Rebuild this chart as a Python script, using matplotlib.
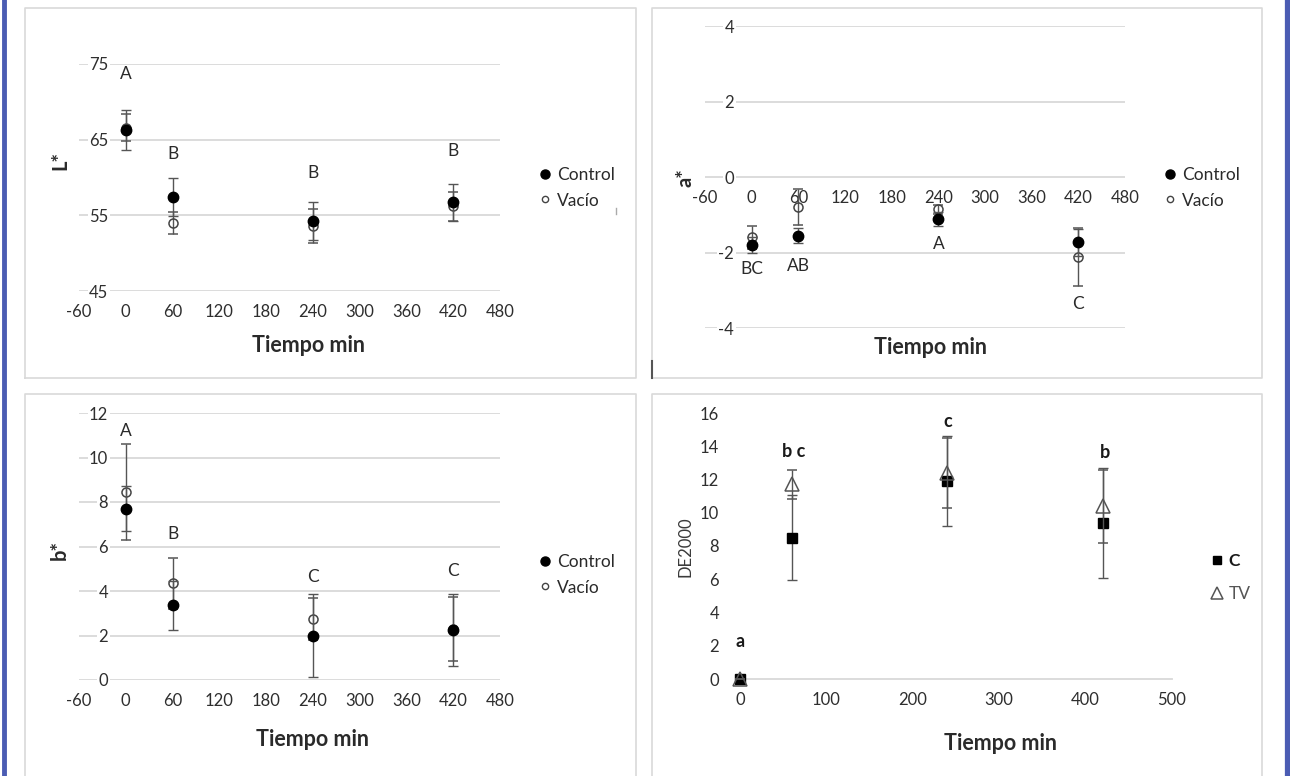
import matplotlib.pyplot as plt
from matplotlib.lines import Line2D

W, H = 1290, 776

# tiempo de muestreo (min)
tiempo = [0, 60, 240, 420]

# L*
L_control = [66.3, 57.4, 54.2, 56.7]
L_control_err = [2.6, 2.5, 2.5, 2.5]
L_vacio = [66.6, 54.0, 53.6, 56.2]
L_vacio_err = [1.8, 1.5, 2.2, 1.9]
L_letras = ['A', 'B', 'B', 'B']

# a*
a_control = [-1.80, -1.55, -1.12, -1.73]
a_control_err = [0.20, 0.20, 0.18, 0.35]
a_vacio = [-1.60, -0.80, -0.85, -2.12]
a_vacio_err = [0.30, 0.48, 0.12, 0.78]
a_letras = ['BC', 'AB', 'A', 'C']

# b*
b_control = [7.70, 3.35, 2.00, 2.25]
b_control_err = [1.00, 1.10, 1.85, 1.60]
b_vacio = [8.45, 4.35, 2.75, 2.30]
b_vacio_err = [2.15, 1.15, 0.95, 1.45]
b_letras = ['A', 'B', 'C', 'C']

# DE2000
de_c = [0, 8.5, 11.9, 9.4]
de_c_err = [0, 2.55, 2.7, 3.3]
de_tv = [0, 11.7, 12.4, 10.4]
de_tv_err = [0, 0.9, 2.1, 2.2]
de_letras = ['a', 'b c', 'c', 'b']

# where the letters sit (layout only)
L_letra_y = [73.7, 63.1, 60.6, 63.5]
a_letra_y = [-2.44, -2.36, -1.78, -3.36]
b_letra_y = [11.2, 6.55, 4.62, 4.92]
de_letra_x = [0, 62, 241, 422]
de_letra_y = [2.25, 13.7, 15.5, 13.6]

plt.rcParams['font.family'] = ['Lato', 'DejaVu Sans']
plt.rcParams['axes.unicode_minus'] = False

txt = '#2e2e2e'
grid_c = '#d9d9d9'
frame_c = '#d9d9d9'
err_c = '#555555'

fig = plt.figure(figsize=(W / 100, H / 100), dpi=100)
fig.patch.set_facecolor('white')


def px_axes(x0, y0, x1, y1):
    return fig.add_axes([x0 / W, 1 - y1 / H, (x1 - x0) / W, (y1 - y0) / H])


def fig_line(xs, ys, **kw):
    fig.add_artist(Line2D([x / W for x in xs], [1 - y / H for y in ys],
                          transform=fig.transFigure, **kw))


def fig_text(x, y, s, **kw):
    fig.text(x / W, 1 - y / H, s, **kw)


# panel frames and the blue border
fig_line([25, 25, 636, 636, 25], [378, 8, 8, 378, 378], color=frame_c, lw=1.2)
fig_line([652, 652, 1262, 1262, 652], [378, 8, 8, 378, 378], color=frame_c, lw=1.2)
fig_line([25, 25, 636, 636], [776, 394, 394, 776], color=frame_c, lw=1.2)
fig_line([652, 652, 1262, 1262], [776, 394, 394, 776], color=frame_c, lw=1.2)
fig_line([652, 652], [361, 378], color='#555555', lw=1.5)
fig_line([616, 616], [208, 214], color='#aaaaaa', lw=1)
fig_line([3.5, 3.5], [0, H], color='#4b5cb3', lw=3.5)
fig_line([1288, 1288], [0, H], color='#4b5cb3', lw=4.5)


def excel_style(ax, yticks, ylab_inside=True):
    for s in ax.spines.values():
        s.set_visible(False)
    ax.set_yticks(yticks)
    ax.grid(axis='y', color=grid_c, lw=1.3)
    ax.set_axisbelow(True)
    ax.tick_params(axis='both', length=0, labelsize=12, labelcolor=txt)
    ax.tick_params(axis='x', pad=9.5)
    if ylab_inside:
        ax.tick_params(axis='y', pad=-21)
        for t in ax.yaxis.get_major_ticks():
            t.label1.set_bbox(dict(fc='white', ec='none', pad=1.0))


def control_vacio(ax, cv, ce, vv, ve):
    ax.errorbar(tiempo, vv, yerr=ve, fmt='o', ms=6.5, mfc='none', mec='#444444', mew=1.1,
                ecolor=err_c, elinewidth=1, capsize=3.5, capthick=1, clip_on=False, zorder=3)
    ax.errorbar(tiempo, cv, yerr=ce, fmt='o', ms=7.5, mfc='black', mec='black',
                ecolor=err_c, elinewidth=1, capsize=3.5, capthick=1, clip_on=False, zorder=4)


def cv_legend(ax, x, y):
    h = [Line2D([], [], ls='none', marker='o', ms=6.5, mfc='black', mec='black'),
         Line2D([], [], ls='none', marker='o', ms=4.5, mfc='none', mec='#444444', mew=1)]
    leg = ax.legend(h, ['Control', 'Vacío'], loc='upper left',
                    bbox_to_anchor=(x / W, 1 - y / H), bbox_transform=fig.transFigure,
                    frameon=False, borderpad=0, borderaxespad=0, handlelength=0.8,
                    handletextpad=0.3, labelspacing=0.55, fontsize=12.5)
    for t in leg.get_texts():
        t.set_color('#2a2a2a')


# ---- L* ----
ax1 = px_axes(79, 64, 500, 291)
ax1.set_xlim(-60, 480)
ax1.set_ylim(45, 75)
ax1.set_xticks(range(-60, 481, 60))
excel_style(ax1, [45, 55, 65, 75])
control_vacio(ax1, L_control, L_control_err, L_vacio, L_vacio_err)
for x, y, s in zip(tiempo, L_letra_y, L_letras):
    ax1.text(x, y, s, ha='center', va='center', fontsize=12.5, color='#2a2a2a')
cv_legend(ax1, 538, 167)
fig_text(308, 345, 'Tiempo min', ha='center', va='center', fontsize=15.5,
         fontweight='bold', color='#2a2a2a')
fig_text(60, 161, 'L*', ha='center', va='center', rotation=90, fontsize=14.5,
         fontweight='bold', color='#2a2a2a')

# ---- a* ----
ax2 = px_axes(705, 26, 1125, 328)
ax2.set_xlim(-60, 480)
ax2.set_ylim(-4, 4)
ax2.set_xticks(range(-60, 481, 60))
excel_style(ax2, [-4, -2, 0, 2, 4])
ax2.spines['bottom'].set_position(('data', 0))
control_vacio(ax2, a_control, a_control_err, a_vacio, a_vacio_err)
for x, y, s in zip(tiempo, a_letra_y, a_letras):
    ax2.text(x, y, s, ha='center', va='center', fontsize=12.5, color='#2a2a2a')
cv_legend(ax2, 1163, 167)
fig_text(931, 348, 'Tiempo min', ha='center', va='center', fontsize=15.5,
         fontweight='bold', color='#2a2a2a')
fig_text(686, 178, 'a*', ha='center', va='center', rotation=90, fontsize=14.5,
         fontweight='bold', color='#2a2a2a')

# ---- b* ----
ax3 = px_axes(79, 413, 500, 680)
ax3.set_xlim(-60, 480)
ax3.set_ylim(0, 12)
ax3.set_xticks(range(-60, 481, 60))
excel_style(ax3, range(0, 13, 2))
control_vacio(ax3, b_control, b_control_err, b_vacio, b_vacio_err)
for x, y, s in zip(tiempo, b_letra_y, b_letras):
    ax3.text(x, y, s, ha='center', va='center', fontsize=12.5, color='#2a2a2a')
cv_legend(ax3, 538, 554)
fig_text(312, 740, 'Tiempo min', ha='center', va='center', fontsize=15.5,
         fontweight='bold', color='#2a2a2a')
fig_text(60, 550, 'b*', ha='center', va='center', rotation=90, fontsize=14.5,
         fontweight='bold', color='#2a2a2a')

# ---- DE2000 ----
ax4 = px_axes(740, 413, 1172, 679)
ax4.set_xlim(0, 500)
ax4.set_ylim(0, 16)
ax4.set_xticks(range(0, 501, 100))
ax4.set_yticks(range(0, 17, 2))
for s in ax4.spines.values():
    s.set_visible(False)
ax4.spines['bottom'].set_visible(True)
ax4.spines['bottom'].set_color(grid_c)
ax4.spines['bottom'].set_linewidth(1.3)
ax4.tick_params(axis='both', length=0, labelsize=12, labelcolor=txt)
ax4.tick_params(axis='x', pad=9.5)
ax4.tick_params(axis='y', pad=15)
ax4.errorbar(tiempo, de_c, yerr=de_c_err, fmt='s', ms=6.5, mfc='black', mec='black',
             ecolor=err_c, elinewidth=1, capsize=3.5, capthick=1, clip_on=False, zorder=3)
ax4.errorbar(tiempo, de_tv, yerr=de_tv_err, fmt='^', ms=10, mfc='none', mec='#555555', mew=1.1,
             ecolor=err_c, elinewidth=1, capsize=3.5, capthick=1, clip_on=False, zorder=4)
for x, y, s in zip(de_letra_x, de_letra_y, de_letras):
    ax4.text(x, y, s, ha='center', va='center', fontsize=13, fontweight='bold', color='#1a1a1a')
h4 = [Line2D([], [], ls='none', marker='s', ms=6, mfc='black', mec='black'),
      Line2D([], [], ls='none', marker='^', ms=8, mfc='none', mec='#555555', mew=1.1)]
leg4 = ax4.legend(h4, ['C', 'TV'], loc='upper left',
                  bbox_to_anchor=(1210 / W, 1 - 553 / H), bbox_transform=fig.transFigure,
                  frameon=False, borderpad=0, borderaxespad=0, handlelength=0.8,
                  handletextpad=0.26, labelspacing=1.0, fontsize=12.5)
leg4.get_texts()[0].set_color('#1a1a1a')
leg4.get_texts()[0].set_fontweight('bold')
leg4.get_texts()[1].set_color('#555555')
fig_text(1001, 744, 'Tiempo min', ha='center', va='center', fontsize=15.5,
         fontweight='bold', color='#2a2a2a')
fig_text(686, 547, 'DE2000', ha='center', va='center', rotation=90, fontsize=12,
         color='#3a3a3a')

fig.savefig('out.png', dpi=100)
